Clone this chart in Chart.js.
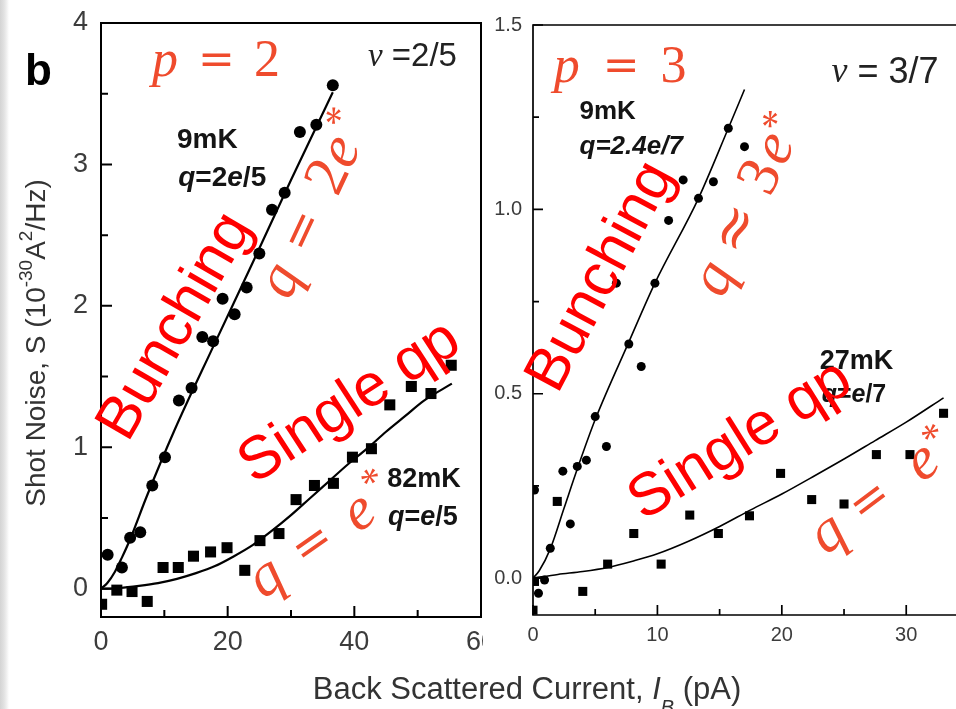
<!DOCTYPE html>
<html>
<head>
<meta charset="utf-8">
<script src="https://cdn.jsdelivr.net/npm/chart.js@4.4.1/dist/chart.umd.min.js"></script>
<style>
  html, body { margin: 0; padding: 0; background: #fff; }
  #wrap {
    position: relative; width: 956px; height: 709px; overflow: hidden;
    background: linear-gradient(to right, #d4d4d4 0px, #e2e2e2 4px, #f2f2f2 7px, #fff 9px);
  }
  #wrap canvas { position: absolute; top: 0; }
  #left { left: 0; }
  #right { left: 483px; background: #fff; }
</style>
</head>
<body>
<div id="wrap">
  <canvas id="left" width="956" height="709"></canvas>
  <canvas id="right" width="473" height="665"></canvas>
</div>
<script>
// ---- data ----
// nu = 2/5 panel, back scattered current (pA) vs shot noise (1e-30 A^2/Hz)
const circles9mK_25 = [[1.05,0.24],[3.3,0.15],[4.6,0.36],[6.2,0.40],[8.1,0.73],[10.1,0.93],[12.3,1.33],
  [14.3,1.42],[16.0,1.78],[17.7,1.75],[19.2,2.05],[21.1,1.94],[23.0,2.13],[25.0,2.37],[27.0,2.68],
  [29.0,2.80],[31.4,3.23],[34.0,3.28],[36.6,3.56]];
const squares82mK_25 = [[0.1,-0.11],[2.5,-0.01],[4.9,-0.02],[7.3,-0.09],[9.8,0.15],[12.2,0.15],[14.6,0.23],
  [17.3,0.26],[19.9,0.29],[22.7,0.13],[25.1,0.34],[28.1,0.39],[30.8,0.63],[33.7,0.73],[36.7,0.745],
  [39.7,0.93],[42.7,0.99],[45.6,1.30],[49.0,1.43],[52.1,1.38],[55.3,1.58]];
const fitBunch_25 = [[0,0],[1,0.04],[2.2,0.12],[3.3,0.22],[4.6,0.35],[7.2,0.65],[11.6,1.12],[17.7,1.71],
  [24,2.31],[30,2.89],[36.6,3.51]];
const fitSingle_25 = [[0,0],[3,0.005],[6,0.02],[9,0.04],[12,0.07],[15,0.11],[18,0.16],[21,0.23],[24,0.31],
  [27,0.41],[30,0.52],[33,0.64],[36,0.76],[39,0.88],[42,0.99],[45,1.11],[48,1.22],[51,1.33],[55.4,1.45]];

// nu = 3/7 panel
const circles9mK_37 = [[0.12,0.239],[0.44,-0.041],[0.93,-0.005],[1.39,0.081],[2.4,0.29],[3.0,0.147],
  [3.56,0.303],[4.29,0.32],[5.0,0.438],[5.9,0.357],[6.7,0.80],[7.7,0.635],[8.7,0.574],[9.8,0.80],
  [10.9,0.97],[12.07,1.08],[13.3,1.03],[14.5,1.075],[15.7,1.22],[17.0,1.17]];
const squares27mK_37 = [[0.0,-0.087],[0.12,-0.009],[1.95,0.208],[4.0,-0.036],[6.0,0.038],[8.1,0.121],
  [10.3,0.038],[12.6,0.171],[14.9,0.121],[17.4,0.169],[19.9,0.284],[22.4,0.213],[25.0,0.201],
  [27.6,0.335],[30.3,0.335],[33.0,0.447]];
const fitBunch_37 = [[0,0],[0.5,0.02],[1.4,0.08],[2.5,0.19],[3.6,0.30],[5,0.43],[7.7,0.64],[9.8,0.80],
  [13.3,1.03],[15.7,1.22],[17,1.325]];
const fitSingle_37 = [[0,0],[2,0.01],[4,0.018],[6,0.029],[8,0.046],[10,0.066],[12.5,0.1],[15,0.14],
  [17.5,0.185],[20,0.228],[22.5,0.275],[25,0.323],[27.5,0.373],[30,0.423],[33,0.489]];

// axis ticks
const xTicksL = [0, 20, 40, 60];
const xMinorL = [10, 30, 50];
const yTicksL = [0, 1, 2, 3, 4];
const yMinorL = [0.5, 1.5, 2.5, 3.5];
const xTicksR = [0, 10, 20, 30];
const xMinorR = [5, 15, 25];
const yTicksR = [0, 0.5, 1.0, 1.5];
const yMinorR = [0.25, 0.75, 1.25];

// ---- look ----
const SANS = '"Liberation Sans", Arial, sans-serif';
const SERIF = '"Liberation Serif", "Times New Roman", serif';
const DSERIF = '"DejaVu Serif", serif';
const MATH = '#ef4b2d';
const RED = '#ff0000';
const INK = '#141414';

function drawRich(ctx, x, y, deg, segs, align, color) {
    ctx.save();
    ctx.translate(x, y);
    ctx.rotate(deg * Math.PI / 180);
    ctx.textBaseline = 'middle';
    ctx.textAlign = 'left';
    let total = 0;
    const widths = segs.map(s => {
        ctx.font = s.f;
        const w = ctx.measureText(s.t).width;
        total += (s.gap || 0) + w;
        return w;
    });
    let cx = align === 'left' ? 0 : -total / 2;
    segs.forEach((s, i) => {
        cx += s.gap || 0;
        ctx.font = s.f;
        ctx.fillStyle = s.c || color;
        ctx.fillText(s.t, cx, s.dy || 0);
        cx += widths[i];
    });
    ctx.restore();
}

const q = (sz) => ({t: 'q', f: `italic ${sz}px ${SERIF}`});
const eq = (g) => ({t: '=', f: `48px ${DSERIF}`, gap: g});

const NOTES = {
    left: [
        {at: [18.16, 3.72], c: MATH, segs: [
            {t: 'p', f: `italic 52px ${SERIF}`},
            {t: '=', f: `44px ${DSERIF}`, gap: 20},
            {t: '2', f: `52px ${SERIF}`, gap: 19}]},
        {at: [42.16, 3.76], align: 'left', c: '#222', segs: [
            {t: 'ν', f: `italic 33px ${SERIF}`},
            {t: ' =2/5', f: `33px ${SANS}`}]},
        {at: [12.0, 3.17], align: 'left', c: INK, segs: [{t: '9mK', f: `bold 28px ${SANS}`}]},
        {at: [12.2, 2.905], align: 'left', c: INK, segs: [
            {t: 'q', f: `italic bold 28px ${SANS}`}, {t: '=2', f: `bold 28px ${SANS}`},
            {t: 'e', f: `italic bold 28px ${SANS}`}, {t: '/5', f: `bold 28px ${SANS}`}]},
        {at: [45.2, 0.769], align: 'left', c: INK, segs: [{t: '82mK', f: `bold 27px ${SANS}`}]},
        {at: [45.3, 0.50], align: 'left', c: INK, segs: [
            {t: 'q', f: `italic bold 27px ${SANS}`}, {t: '=', f: `bold 27px ${SANS}`},
            {t: 'e', f: `italic bold 27px ${SANS}`}, {t: '/5', f: `bold 27px ${SANS}`}]},
        {at: [11.85, 1.852], rot: -60, c: RED, segs: [{t: 'Bunching', f: `60px ${SANS}`}]},
        {at: [34.03, 2.711], rot: -65, c: MATH, segs: [
            q(60), eq(19), {t: '2', f: `60px ${SERIF}`, gap: 25},
            {t: 'e', f: `italic 60px ${SERIF}`}, {t: '*', f: `40px ${SERIF}`, gap: 6, dy: -14}]},
        {at: [39.3, 1.315], rot: -33, c: RED, segs: [{t: 'Single qp', f: `60px ${SANS}`}]},
        {at: [35.05, 0.354], rot: -35, c: MATH, segs: [
            q(60), eq(22), {t: 'e', f: `italic 60px ${SERIF}`, gap: 23},
            {t: '*', f: `40px ${SERIF}`, gap: 6, dy: -16}]},
        // panel letter and axis titles (page positions)
        {px: true, at: [38.5, 73], c: '#000', segs: [{t: 'b', f: `bold 44px ${SANS}`}]},
        {px: true, at: [37, 343], rot: -90, c: '#333', segs: [
            {t: 'Shot Noise, S (10', f: `28px ${SANS}`},
            {t: '-30', f: `19px ${SANS}`, dy: -10},
            {t: 'A', f: `28px ${SANS}`},
            {t: '2', f: `19px ${SANS}`, dy: -10},
            {t: '/Hz)', f: `28px ${SANS}`}]},
        {px: true, at: [527, 690], c: '#333', segs: [
            {t: 'Back Scattered Current, ', f: `31px ${SANS}`},
            {t: 'I', f: `italic 31px ${SANS}`},
            {t: 'B', f: `italic 20px ${SANS}`, dy: 18},
            {t: ' (pA)', f: `31px ${SANS}`}]}
    ],
    right: [
        {at: [7.0, 1.383], c: MATH, segs: [
            {t: 'p', f: `italic 52px ${SERIF}`},
            {t: '=', f: `44px ${DSERIF}`, gap: 23},
            {t: '3', f: `52px ${SERIF}`, gap: 21}]},
        {at: [24.0, 1.370], align: 'left', c: '#222', segs: [
            {t: 'ν', f: `italic 36px ${SERIF}`},
            {t: ' = 3/7', f: `36px ${SANS}`}]},
        {at: [3.74, 1.264], align: 'left', c: INK, segs: [{t: '9mK', f: `bold 26px ${SANS}`}]},
        {at: [3.74, 1.169], align: 'left', c: INK, segs: [{t: 'q=2.4e/7', f: `italic bold 26px ${SANS}`}]},
        {at: [23.05, 0.586], align: 'left', c: INK, segs: [{t: '27mK', f: `bold 27px ${SANS}`}]},
        {at: [23.2, 0.497], align: 'left', c: INK, segs: [
            {t: 'q', f: `italic bold 25px ${SANS}`}, {t: '=', f: `bold 25px ${SANS}`},
            {t: 'e', f: `italic bold 25px ${SANS}`}, {t: '/7', f: `bold 25px ${SANS}`}]},
        {at: [5.51, 0.817], rot: -62, c: RED, segs: [{t: 'Bunching', f: `60px ${SANS}`}]},
        {at: [17.39, 1.012], rot: -65, c: MATH, segs: [
            q(60), {t: '≈', f: `58px ${DSERIF}`, gap: 15}, {t: '3', f: `60px ${SERIF}`, gap: 18},
            {t: 'e', f: `italic 60px ${SERIF}`, gap: 4}, {t: '*', f: `40px ${SERIF}`, gap: 1, dy: -9}]},
        {at: [16.68, 0.372], rot: -32, c: RED, segs: [{t: 'Single qp', f: `60px ${SANS}`}]},
        {at: [28.16, 0.232], rot: -37, c: MATH, segs: [
            q(60), eq(18), {t: 'e', f: `italic 60px ${SERIF}`, gap: 32},
            {t: '*', f: `40px ${SERIF}`, gap: 1, dy: -12}]}
    ]
};

const FRAMES = {
    left: {lw: 2, right: true, xMajor: xTicksL, xMinor: xMinorL, yMajor: yTicksL, yMinor: yMinorL, major: 11, minor: 7},
    right: {lw: 1.7, right: false, xMajor: xTicksR, xMinor: xMinorR, yMajor: yTicksR, yMinor: yMinorR, major: 10, minor: 6}
};

// box with ticks pointing into the plot
const framePlugin = {
    id: 'frame',
    beforeDatasetsDraw(chart) {
        const o = FRAMES[chart.canvas.id];
        const {ctx, chartArea: a, scales: {x, y}} = chart;
        ctx.save();
        ctx.strokeStyle = '#000';
        ctx.lineWidth = o.lw;
        ctx.lineCap = 'square';
        ctx.beginPath();
        ctx.moveTo(a.left, a.top); ctx.lineTo(a.right, a.top);
        ctx.moveTo(a.left, a.top); ctx.lineTo(a.left, a.bottom);
        ctx.moveTo(a.left, a.bottom); ctx.lineTo(a.right, a.bottom);
        if (o.right) { ctx.moveTo(a.right, a.top); ctx.lineTo(a.right, a.bottom); }
        ctx.stroke();
        ctx.lineCap = 'butt';
        ctx.beginPath();
        const tx = (v, len) => { const p = x.getPixelForValue(v); ctx.moveTo(p, a.bottom); ctx.lineTo(p, a.bottom - len); };
        const ty = (v, len) => { const p = y.getPixelForValue(v); ctx.moveTo(a.left, p); ctx.lineTo(a.left + len, p); };
        o.xMajor.forEach(v => tx(v, o.major));
        o.xMinor.forEach(v => tx(v, o.minor));
        o.yMajor.forEach(v => ty(v, o.major));
        o.yMinor.forEach(v => ty(v, o.minor));
        ctx.stroke();
        ctx.restore();
    }
};

const notesPlugin = {
    id: 'notes',
    afterDraw(chart) {
        const {ctx, scales: {x, y}} = chart;
        NOTES[chart.canvas.id].forEach(n => {
            const px = n.px ? n.at[0] : x.getPixelForValue(n.at[0]);
            const py = n.px ? n.at[1] : y.getPixelForValue(n.at[1]);
            drawRich(ctx, px, py, n.rot || 0, n.segs, n.align || 'center', n.c);
        });
    }
};

const pts = arr => arr.map(([x, y]) => ({x, y}));

function markers(data, style, radius) {
    return {data: pts(data), pointStyle: style, pointRadius: radius, pointHoverRadius: radius,
        backgroundColor: '#000', borderColor: '#000', borderWidth: 0, showLine: false, clip: 0};
}

function curve(data, width) {
    return {data: pts(data), showLine: true, borderColor: '#000', borderWidth: width, pointRadius: 0,
        pointHoverRadius: 0, fill: false, cubicInterpolationMode: 'monotone'};
}

function axis(min, max, ticks, fontSize, pad, size, fmt) {
    return {
        type: 'linear', min: min, max: max,
        afterBuildTicks: s => { s.ticks = ticks.map(v => ({value: v})); },
        afterFit: s => {
            if (s.isHorizontal()) { s.height = size; } else { s.width = size; }
            // edge labels may hang over the frame, as in the original
            s.paddingLeft = s.paddingRight = s.paddingTop = s.paddingBottom = 0;
        },
        grid: {display: false, drawTicks: false},
        border: {display: false},
        ticks: {color: '#3c3c3c', font: {family: SANS, size: fontSize}, padding: pad,
            maxRotation: 0, autoSkip: false, callback: fmt || (v => String(v))}
    };
}

new Chart(document.getElementById('left'), {
    type: 'scatter',
    data: {
        datasets: [
            markers(circles9mK_25, 'circle', 6),
            markers(squares82mK_25, 'rect', 7.8),
            curve(fitBunch_25, 2.2),
            curve(fitSingle_25, 2.2)
        ]
    },
    options: {
        responsive: false, animation: false, events: [],
        layout: {autoPadding: false, padding: {left: 0, top: 23, right: 475, bottom: 0}},
        plugins: {legend: {display: false}, tooltip: {enabled: false}},
        scales: {
            x: axis(0, 60, xTicksL, 27, 9, 92),
            y: axis(-0.2, 4, yTicksL, 27, 13, 101)
        }
    },
    plugins: [framePlugin, notesPlugin]
});

new Chart(document.getElementById('right'), {
    type: 'scatter',
    data: {
        datasets: [
            markers(circles9mK_37, 'circle', 4.5),
            markers(squares27mK_37, 'rect', 6.4),
            curve(fitBunch_37, 1.6),
            curve(fitSingle_37, 1.6)
        ]
    },
    options: {
        responsive: false, animation: false, events: [],
        layout: {autoPadding: false, padding: {left: 0, top: 25, right: 0, bottom: 0}},
        plugins: {legend: {display: false}, tooltip: {enabled: false}},
        scales: {
            x: axis(0, 34, xTicksR, 20, 8, 50),
            y: axis(-0.1, 1.5, yTicksR, 20, 11, 50, v => Number(v).toFixed(1))
        }
    },
    plugins: [framePlugin, notesPlugin]
});
</script>
</body>
</html>
